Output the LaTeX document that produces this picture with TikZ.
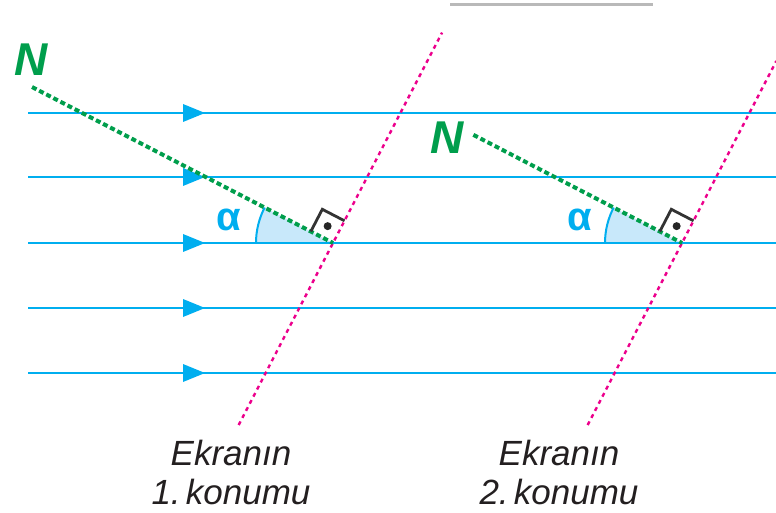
\documentclass[tikz,border=0pt]{standalone}
\usepackage{fontspec}
\setmainfont{Liberation Sans}
\usetikzlibrary{calc,positioning}

\definecolor{raycol}{RGB}{0,174,239}
\definecolor{normcol}{RGB}{0,158,76}
\definecolor{scrcol}{RGB}{236,0,140}
\definecolor{wedgecol}{RGB}{200,232,250}
\definecolor{capcol}{RGB}{35,31,32}

\begin{document}
\begin{tikzpicture}[
    x=0.5pt, y=-0.5pt,
    ray/.style={draw=raycol, line width=1.4pt},
    normal/.style={draw=normcol, line width=2pt, dash pattern=on 2.5pt off 1.5pt},
    screen/.style={draw=scrcol, line width=1.2pt, dash pattern=on 2pt off 2pt},
    rmark/.style={draw=black!80, line width=1.4pt},
    caption/.style={font=\fontsize{17.5}{19.5}\selectfont\itshape, text=capcol, align=center, inner sep=0pt},
    nlabel/.style={font=\fontsize{23}{23}\selectfont\bfseries\itshape, text=normcol, inner sep=0pt},
    alabel/.style={font=\fontsize{20}{20}\selectfont\bfseries, text=raycol, inner sep=0pt}
]
\useasboundingbox (0,0) rectangle (776,513);

% points where the normals meet the screens
\coordinate (p1) at (333,243);
\coordinate (p2) at (682,243);

% angle wedges
\foreach \p in {p1,p2} {
    \fill[wedgecol] (\p) -- ($(\p)+(180:77)$) arc[start angle=180, end angle=207.4, radius=77] -- cycle;
    \draw[raycol, line width=1pt] ($(\p)+(180:77)$) arc[start angle=180, end angle=207.4, radius=77];
}

% light rays
\foreach \y [count=\i] in {113,177,243,308,373} {
    \coordinate (l\i) at (28,\y);
    \coordinate (r\i) at (776,\y);
    \draw[ray] (l\i) -- (r\i);
    \fill[raycol] (183,\y-9) -- (205,\y) -- (183,\y+9) -- cycle;
}

% screens
\coordinate (s1b) at ($(p1)+(117.4:205)$);
\coordinate (s1t) at ($(p1)+(297.4:237)$);
\coordinate (s2b) at ($(p2)+(117.4:205)$);
\coordinate (s2t) at ($(p2)+(297.4:205)$);
\draw[screen] (s1b) -- (s1t);
\draw[screen] (s2b) -- (s2t);

% normals
\coordinate (n1) at ($(p1)+(207.4:339)$);
\coordinate (n2) at ($(p2)+(207.4:235)$);
\draw[normal] (n1) -- (p1);
\draw[normal] (n2) -- (p2);

% right angle marks
\foreach \p in {p1,p2} {
    \draw[rmark] ($(\p)+(207.4:25)$) -- ++(297.4:25) -- ++(27.4:25);
    \fill[black!85] ($(\p)+(252.4:17.7)$) circle[radius=4];
}

\node[nlabel] (N1) at (31,60) {N};
\node[nlabel] (N2) at (447,138) {N};
\node[alabel] (a1) at (229,220) {α};
\node[alabel] (a2) at (580,220) {α};

\node[caption, anchor=north] (c1) at (231,440) {Ekranın\\1.\kern0.15em konumu};
\node[caption, anchor=north] (c2) at (559,440) {Ekranın\\2.\kern0.15em konumu};

% strip at the top edge
\coordinate (bl) at (450,5);
\coordinate (br) at (653,5);
\draw[gray!55, line width=1.5pt] (bl) -- (br);
\end{tikzpicture}
\end{document}
